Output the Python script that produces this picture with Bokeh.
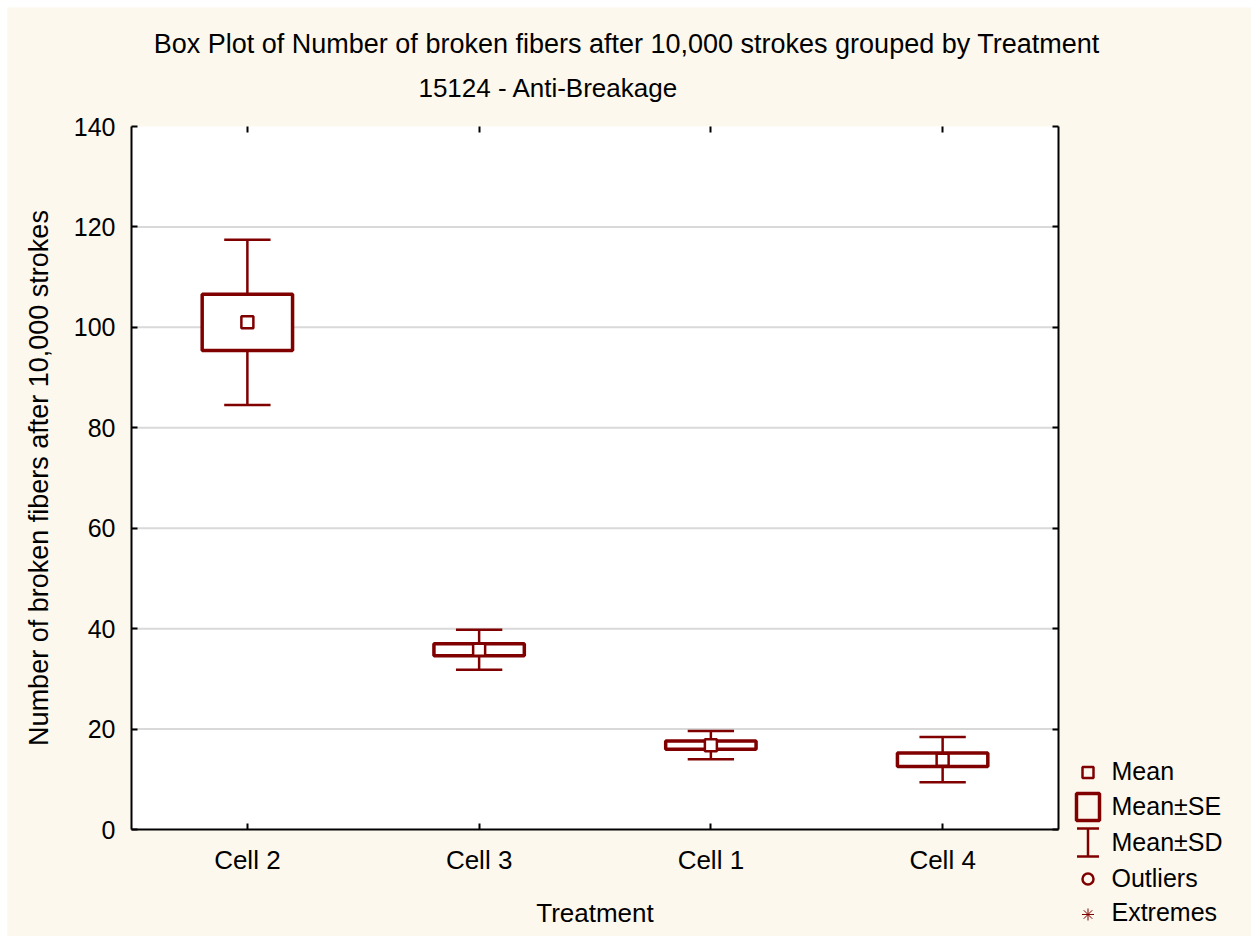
from bokeh.plotting import figure
from bokeh.models import Range1d, FixedTicker, LinearAxis, Label
from bokeh.embed import file_html
from bokeh.resources import INLINE

# ---- data ----
categories = ["Cell 2", "Cell 3", "Cell 1", "Cell 4"]
means = [101.0, 35.8, 16.8, 13.9]
se = [5.6, 1.2, 0.8, 1.35]
sd = [16.45, 4.0, 2.8, 4.5]
y_ticks = [0, 20, 40, 60, 80, 100, 120, 140]
legend_labels = ["Mean", "Mean\u00b1SE", "Mean\u00b1SD", "Outliers", "Extremes"]
title_text = "Box Plot of Number of broken fibers after 10,000 strokes grouped by  Treatment"
subtitle_text = "15124 - Anti-Breakage"
x_label = "Treatment"
y_label = "Number of broken fibers after 10,000 strokes"

# ---- style / layout (canvas pixels) ----
FONT = "Liberation Sans"
RED = "#800000"
BG = "#FDF8EE"
GRID = "#D9D9D9"
W, H = 1244, 929
PL, PR, PT, PB = 124, 1051, 119, 822   # plot area inside the canvas

n = len(categories)
xpos = [i + 0.5 for i in range(n)]
Y_MIN, Y_MAX = y_ticks[0], y_ticks[-1]

ux = (PR - PL) / n
x_start = -PL / ux
x_end = x_start + W / ux
uy = (PB - PT) / (Y_MAX - Y_MIN)
y_start = Y_MIN - (H - PB) / uy
y_end = Y_MAX + PT / uy

p = figure(width=W, height=H, x_range=Range1d(x_start, x_end), y_range=Range1d(y_start, y_end),
           x_axis_type=None, y_axis_type=None, output_backend="svg", toolbar_location=None,
           min_border=0)
p.margin = (7, 0, 0, 7)
p.title.visible = False
p.border_fill_color = BG
p.background_fill_color = BG
p.outline_line_color = None
p.extra_x_ranges = {"px": Range1d(0, W)}
p.extra_y_ranges = {"px": Range1d(H, 0)}


def style_axis(ax, fs="25px", labels=True):
    ax.axis_line_color = "black"
    ax.axis_line_width = 2
    ax.major_tick_line_color = "black"
    ax.major_tick_line_width = 2
    ax.major_tick_in = 6
    ax.major_tick_out = 0
    ax.minor_tick_line_color = None
    ax.major_label_text_font = FONT
    ax.major_label_text_font_size = fs
    ax.major_label_text_color = "black" if labels else None
    ax.axis_label_text_font = FONT
    ax.axis_label_text_font_style = "normal"
    ax.axis_label_text_color = "black"


# plot area background
p.quad(left=[0], right=[n], bottom=[Y_MIN], top=[Y_MAX], fill_color="white",
       line_color=None, level="image")

# horizontal grid lines
grid_y = [t for t in y_ticks if Y_MIN < t < Y_MAX]
p.segment(x0=[0] * len(grid_y), x1=[n] * len(grid_y), y0=grid_y, y1=grid_y,
          line_color=GRID, line_width=2, level="underlay")

# axes
xa = LinearAxis(ticker=FixedTicker(ticks=xpos), fixed_location=Y_MIN, bounds=(0, n))
xa.major_label_overrides = {x: c for x, c in zip(xpos, categories)}
xa.axis_label = x_label
style_axis(xa, "26px")
xa.axis_label_text_font_size = "26px"
xa.major_label_standoff = 15
xa.axis_label_standoff = 20
p.add_layout(xa, "below")

ya = LinearAxis(ticker=FixedTicker(ticks=y_ticks), fixed_location=0, bounds=(Y_MIN, Y_MAX))
ya.axis_label = y_label
style_axis(ya, "25px")
ya.axis_label_text_font_size = "27px"
ya.major_label_standoff = 16
ya.axis_label_standoff = 17
p.add_layout(ya, "left")

top = LinearAxis(ticker=FixedTicker(ticks=xpos), fixed_location=Y_MAX, bounds=(0, n))
style_axis(top, "1px", labels=False)
top.axis_line_color = None
p.add_layout(top, "above")

right = LinearAxis(ticker=FixedTicker(ticks=y_ticks), fixed_location=n, bounds=(Y_MIN, Y_MAX))
style_axis(right, "1px", labels=False)
p.add_layout(right, "right")

# box plot marks
lo_sd = [m - s for m, s in zip(means, sd)]
hi_sd = [m + s for m, s in zip(means, sd)]
p.segment(x0=xpos, y0=lo_sd, x1=xpos, y1=hi_sd, line_color=RED, line_width=2.5)
p.segment(x0=[x - 0.1 for x in xpos], y0=hi_sd, x1=[x + 0.1 for x in xpos], y1=hi_sd,
          line_color=RED, line_width=2.5)
p.segment(x0=[x - 0.1 for x in xpos], y0=lo_sd, x1=[x + 0.1 for x in xpos], y1=lo_sd,
          line_color=RED, line_width=2.5)
p.rect(x=xpos, y=means, width=0.39, height=[2 * s for s in se],
       fill_color="white", line_color=RED, line_width=3.5)
p.scatter(x=xpos, y=means, marker="square", size=12, fill_color="white",
          line_color=RED, line_width=2.5)

# titles (canvas pixel coordinates)
p.add_layout(Label(x=623, y=36, x_range_name="px", y_range_name="px", text=title_text,
                   text_font=FONT, text_font_size="27px", text_align="center",
                   text_baseline="alphabetic", text_color="black"))
p.add_layout(Label(x=541, y=80, x_range_name="px", y_range_name="px", text=subtitle_text,
                   text_font=FONT, text_font_size="26px", text_align="center",
                   text_baseline="alphabetic", text_color="black"))

# legend (canvas pixel coordinates)
kx = 1080.5
p.scatter(x=[kx], y=[765], marker="square", size=11, fill_color=None, line_color=RED,
          line_width=2.5, x_range_name="px", y_range_name="px")
p.rect(x=[kx], y=[799.5], width=23, height=27, fill_color=None, line_color=RED,
       line_width=3.5, x_range_name="px", y_range_name="px")
p.segment(x0=[kx - 11, kx, kx - 11], y0=[821, 821, 849], x1=[kx + 11, kx, kx + 11],
          y1=[821, 849, 849], line_color=RED, line_width=2.5,
          x_range_name="px", y_range_name="px")
p.scatter(x=[kx], y=[871.5], marker="circle", size=11, fill_color=None, line_color=RED,
          line_width=2.5, x_range_name="px", y_range_name="px")
p.scatter(x=[kx], y=[907], marker="asterisk", size=12, line_color=RED, line_width=1,
          x_range_name="px", y_range_name="px")
for lab, b in zip(legend_labels, [763, 798, 834, 870, 904]):
    p.add_layout(Label(x=1104, y=b, x_range_name="px", y_range_name="px", text=lab,
                       text_font=FONT, text_font_size="25px", text_align="left",
                       text_baseline="alphabetic", text_color="black"))

open("out.html", "w").write(file_html(p, INLINE))
